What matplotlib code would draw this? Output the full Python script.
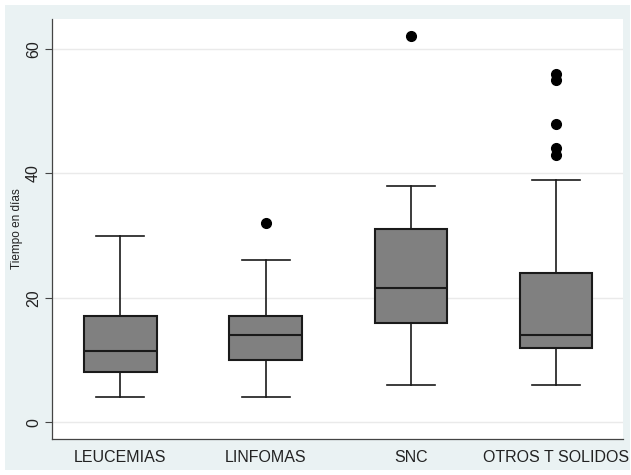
import matplotlib
matplotlib.use("Agg")
import matplotlib.pyplot as plt
from matplotlib.patches import Rectangle

plt.rcParams['font.family'] = ['Liberation Sans', 'DejaVu Sans']

categories = ["LEUCEMIAS", "LINFOMAS", "SNC", "OTROS T SOLIDOS"]
whisk_lo = [4, 4, 6, 6]
q1 = [8, 10, 16, 12]
median = [11.5, 14, 21.5, 14]
q3 = [17, 17, 31, 24]
whisk_hi = [30, 26, 38, 39]
outliers = [[], [32], [62], [43, 44, 48, 55, 56]]
yticks = [0, 20, 40, 60]

W, H = 631, 475
fig = plt.figure(figsize=(W / 100, H / 100), dpi=100, facecolor="white")
fig.patches.append(Rectangle((5 / W, 5 / H), 625 / W, 465 / H, transform=fig.transFigure,
                             facecolor="#EAF2F3", edgecolor="none", zorder=-10))

ax = fig.add_axes([52 / W, (H - 439) / H, (623 - 52) / W, (439 - 19) / H])
ax.set_zorder(1)
ax.set_facecolor("white")

stats = []
for i, c in enumerate(categories):
    stats.append(dict(label=c, whislo=whisk_lo[i], q1=q1[i], med=median[i],
                      q3=q3[i], whishi=whisk_hi[i], fliers=outliers[i]))

ax.bxp(stats, positions=range(1, len(categories) + 1), widths=0.5, patch_artist=True,
       capwidths=0.33,
       boxprops=dict(facecolor="#808080", edgecolor="#1a1a1a", linewidth=1.5),
       medianprops=dict(color="#1a1a1a", linewidth=1.5),
       whiskerprops=dict(color="#1a1a1a", linewidth=1.2),
       capprops=dict(color="#1a1a1a", linewidth=1.2),
       flierprops=dict(marker="o", markerfacecolor="black", markeredgecolor="black",
                       markersize=7))

ax.set_xlim(0.53, 4.46)
ax.set_ylim(-2.7, 64.8)
ax.set_yticks(yticks)
ax.set_yticklabels([str(t) for t in yticks], rotation=90, va="center", fontsize=11.5, color="#222222")
ax.tick_params(axis="y", length=5, width=0.8, color="#444444", pad=3)
ax.tick_params(axis="x", length=0, labelsize=11.5, pad=8, labelcolor="#222222")
ax.yaxis.grid(True, color="#EAEAEA", linewidth=1)
ax.set_axisbelow(True)
for s in ["top", "right"]:
    ax.spines[s].set_visible(False)
for s in ["left", "bottom"]:
    ax.spines[s].set_color("#444444")
    ax.spines[s].set_linewidth(0.9)
ax.set_ylabel("Tiempo en días", fontsize=8.5, color="#222222", labelpad=2)

fig.savefig("out.png", dpi=100, facecolor="white")
